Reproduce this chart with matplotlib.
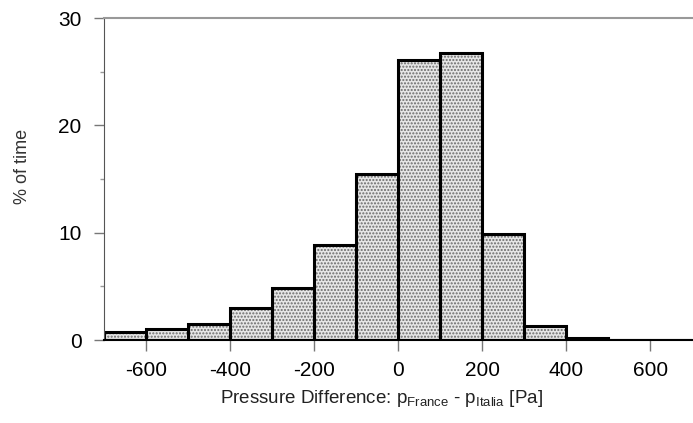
import numpy as np
import matplotlib.pyplot as plt

plt.rcParams['font.family'] = ['Liberation Sans', 'DejaVu Sans']
plt.rcParams['axes.unicode_minus'] = False

# histogram of pressure difference, 100 Pa bins
bin_left = [-700, -600, -500, -400, -300, -200, -100, 0, 100, 200, 300, 400, 500, 600]
pct_time = [0.75, 1.0, 1.5, 3.0, 4.9, 8.9, 15.5, 26.1, 26.8, 9.9, 1.35, 0.2, 0.05, 0.05]
bin_width = 100

fig = plt.figure(figsize=(6.93, 4.23), dpi=100)
ax = fig.add_axes([0.150, 0.196, 0.849, 0.761])

# dotted fill first, then thick black outlines on top
ax.bar(bin_left, pct_time, width=bin_width, align='edge',
       color='#e6e6e6', edgecolor='#6a6a6a', hatch='.....', linewidth=0)
ax.bar(bin_left, pct_time, width=bin_width, align='edge',
       fill=False, edgecolor='black', linewidth=2.2)

ax.set_xlim(-700, 700)
ax.set_ylim(0, 30)
ax.set_xticks(np.arange(-600, 601, 200))
ax.set_yticks([0, 10, 20, 30])
ax.set_yticks([5, 15, 25], minor=True)

ax.tick_params(axis='both', which='major', labelsize=15, color='#777777', direction='out')
ax.tick_params(axis='x', which='major', length=8, width=1, pad=7)
ax.tick_params(axis='y', which='major', length=7, width=1, pad=9)
ax.tick_params(axis='y', which='minor', length=3, width=1, color='#999999')

ax.spines['right'].set_visible(False)
ax.spines['top'].set_color('#999999')
ax.spines['top'].set_linewidth(1.5)
ax.spines['left'].set_color('#555555')
ax.spines['bottom'].set_color('black')
ax.spines['bottom'].set_linewidth(1.5)

ax.set_ylabel('% of time', fontsize=13, color='#333333')
ax.yaxis.set_label_coords(-0.124, 0.54)
ax.set_xlabel(r'Pressure Difference: p$_{\mathregular{France}}$ - p$_{\mathregular{Italia}}$ [Pa]',
              fontsize=13.5, color='#222222')
ax.xaxis.set_label_coords(0.471, -0.15)

fig.savefig('out.png', dpi=100)
